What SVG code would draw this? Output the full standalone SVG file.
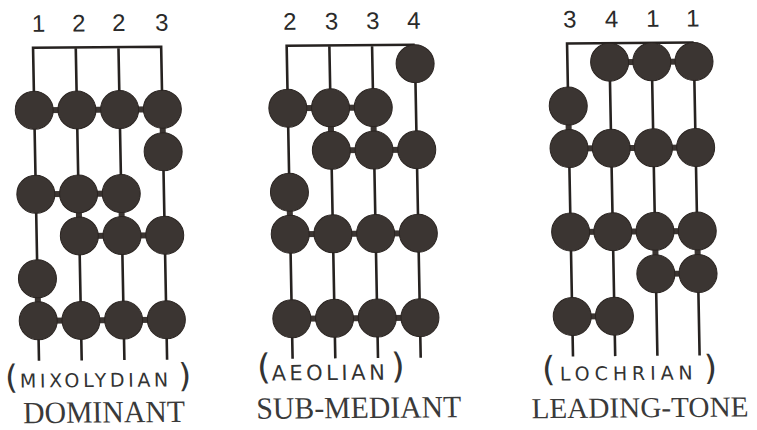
<svg xmlns="http://www.w3.org/2000/svg" width="757" height="430" viewBox="0 0 757 430">
<style>
.bg{fill:#ffffff}
.str{fill:none;stroke:#262220;stroke-width:2.6;stroke-linejoin:miter}
.br{stroke:#3b3532;stroke-width:6;stroke-linecap:butt}
.dot{fill:#3b3532;stroke:#2a2421;stroke-width:1}
.num{font-family:"Liberation Sans",Arial,sans-serif;font-size:24px;fill:#2a2a2a;text-anchor:middle}
.name{font-family:"Liberation Serif","Times New Roman",serif;font-size:31px;fill:#3a3a3a;text-anchor:middle}
.hw{font-family:"DejaVu Sans",sans-serif;fill:#333333}
</style>
<rect class="bg" x="0" y="0" width="757" height="430"/>
<g transform="matrix(1 -0.008 0.019 1 -3.8 3.024)">
<g id="connectors">
<path class="str" d="M36,358 V45 H164.1 V358 M78.7,45 V358 M121.4,45 V358"/>
<path class="str" d="M289.6,358 V45 H417.7 M332.3,45 V358 M375,45 V358 M417.7,64 V358"/>
<path class="str" d="M570,358 V45 H696.6 M612.2,64 V358 M654.4,64 V358 M696.6,64 V358"/>
<path class="br" d="M36,107.5 H164.1 M36,191.5 H121.4 M78.7,233.5 H164.1 M36,318 H164.1 M164.1,107.5 V150 M36,276 V318 M78.7,191.5 V233.5 M121.4,191.5 V233.5"/>
<path class="br" d="M289.6,107.5 H375 M332.3,150 H417.7 M289.6,233.5 H417.7 M289.6,318 H417.7 M332.3,107.5 V150 M375,107.5 V150 M289.6,191.5 V233.5"/>
<path class="br" d="M612.2,64 H696.6 M570,150 H696.6 M570,233.5 H696.6 M654.4,276 H696.6 M570,318 H612.2 M570,107.5 V150 M654.4,233.5 V276 M696.6,233.5 V276"/>
</g>
<g id="dominant">
<text class="num" x="42" y="29">1</text>
<text class="num" x="82.2" y="29">2</text>
<text class="num" x="122.2" y="29">2</text>
<text class="num" x="165.2" y="29">3</text>
<circle class="dot" cx="36" cy="107.5" r="19"/>
<circle class="dot" cx="78.7" cy="107.5" r="19"/>
<circle class="dot" cx="121.4" cy="107.5" r="19"/>
<circle class="dot" cx="164.1" cy="107.5" r="19"/>
<circle class="dot" cx="164.1" cy="150" r="19"/>
<circle class="dot" cx="36" cy="191.5" r="19"/>
<circle class="dot" cx="78.7" cy="191.5" r="19"/>
<circle class="dot" cx="121.4" cy="191.5" r="19"/>
<circle class="dot" cx="78.7" cy="233.5" r="19"/>
<circle class="dot" cx="121.4" cy="233.5" r="19"/>
<circle class="dot" cx="164.1" cy="233.5" r="19"/>
<circle class="dot" cx="36" cy="276" r="19"/>
<circle class="dot" cx="36" cy="318" r="19"/>
<circle class="dot" cx="78.7" cy="318" r="19"/>
<circle class="dot" cx="121.4" cy="318" r="19"/>
<circle class="dot" cx="164.1" cy="318" r="19"/>
<text class="hw"><tspan x="1.8" y="385.5" font-size="33">(</tspan><tspan x="16.5" y="384.7" font-size="19" letter-spacing="3.6">MIXOLYDIAN</tspan><tspan x="175" y="385.5" font-size="33">)</tspan></text>
<text class="name" x="100" y="420.3" textLength="162" lengthAdjust="spacingAndGlyphs">DOMINANT</text>
</g>
<g id="sub-mediant">
<text class="num" x="293.2" y="29">2</text>
<text class="num" x="334.9" y="29">3</text>
<text class="num" x="376.2" y="29">3</text>
<text class="num" x="417.2" y="29">4</text>
<circle class="dot" cx="417.7" cy="64" r="19"/>
<circle class="dot" cx="289.6" cy="107.5" r="19"/>
<circle class="dot" cx="332.3" cy="107.5" r="19"/>
<circle class="dot" cx="375" cy="107.5" r="19"/>
<circle class="dot" cx="332.3" cy="150" r="19"/>
<circle class="dot" cx="375" cy="150" r="19"/>
<circle class="dot" cx="417.7" cy="150" r="19"/>
<circle class="dot" cx="289.6" cy="191.5" r="19"/>
<circle class="dot" cx="289.6" cy="233.5" r="19"/>
<circle class="dot" cx="332.3" cy="233.5" r="19"/>
<circle class="dot" cx="375" cy="233.5" r="19"/>
<circle class="dot" cx="417.7" cy="233.5" r="19"/>
<circle class="dot" cx="289.6" cy="318" r="19"/>
<circle class="dot" cx="332.3" cy="318" r="19"/>
<circle class="dot" cx="375" cy="318" r="19"/>
<circle class="dot" cx="417.7" cy="318" r="19"/>
<text class="hw"><tspan x="253.8" y="378" font-size="35">(</tspan><tspan x="268.3" y="379.6" font-size="21" letter-spacing="3.5">AEOLIAN</tspan><tspan x="388" y="378" font-size="35">)</tspan></text>
<text class="name" x="354.9" y="417.8" textLength="205" lengthAdjust="spacingAndGlyphs">SUB-MEDIANT</text>
</g>
<g id="leading-tone">
<text class="num" x="573.2" y="29">3</text>
<text class="num" x="614.9" y="29">4</text>
<text class="num" x="656.2" y="29">1</text>
<text class="num" x="696.2" y="29">1</text>
<circle class="dot" cx="612.2" cy="64" r="19"/>
<circle class="dot" cx="654.4" cy="64" r="19"/>
<circle class="dot" cx="696.6" cy="64" r="19"/>
<circle class="dot" cx="570" cy="107.5" r="19"/>
<circle class="dot" cx="570" cy="150" r="19"/>
<circle class="dot" cx="612.2" cy="150" r="19"/>
<circle class="dot" cx="654.4" cy="150" r="19"/>
<circle class="dot" cx="696.6" cy="150" r="19"/>
<circle class="dot" cx="570" cy="233.5" r="19"/>
<circle class="dot" cx="612.2" cy="233.5" r="19"/>
<circle class="dot" cx="654.4" cy="233.5" r="19"/>
<circle class="dot" cx="696.6" cy="233.5" r="19"/>
<circle class="dot" cx="654.4" cy="276" r="19"/>
<circle class="dot" cx="696.6" cy="276" r="19"/>
<circle class="dot" cx="570" cy="318" r="19"/>
<circle class="dot" cx="612.2" cy="318" r="19"/>
<text class="hw"><tspan x="538.9" y="382" font-size="34">(</tspan><tspan x="556.6" y="382" font-size="19" letter-spacing="4.9">LOCHRIAN</tspan><tspan x="700.5" y="382" font-size="34">)</tspan></text>
<text class="name" x="636" y="419.4" style="font-size:29px" textLength="217" lengthAdjust="spacingAndGlyphs">LEADING-TONE</text>
</g>
</g>
</svg>
